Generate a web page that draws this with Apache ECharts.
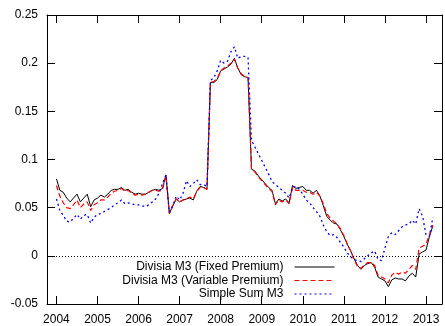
<!DOCTYPE html>
<html>
<head>
<meta charset="utf-8">
<script src="https://cdn.jsdelivr.net/npm/echarts@6/dist/echarts.min.js"></script>
<style>
html,body{margin:0;padding:0;background:#fff;}
#chart{width:445px;height:326px;}
</style>
</head>
<body>
<div id="chart"></div>
<script>
// Monthly observations, Jan 2004 .. Mar 2013
const months = [];
for (let y = 2004; y <= 2013; y++) {
  for (let m = 1; m <= 12; m++) {
    if (y === 2013 && m > 3) break;
    months.push(y + '-' + (m < 10 ? '0' + m : m));
  }
}

const seriesNames = ['Divisia M3 (Fixed Premium)', 'Divisia M3 (Variable Premium)', 'Simple Sum M3'];

const divisiaFixed = [
  0.080, 0.068, 0.066, 0.060, 0.056, 0.060, 0.064, 0.056, 0.060, 0.064, 0.051, 0.058,
  0.060, 0.063, 0.061, 0.064, 0.068, 0.069, 0.069, 0.071, 0.068, 0.069, 0.066, 0.064,
  0.065, 0.064, 0.064, 0.066, 0.068, 0.069, 0.068, 0.070, 0.084, 0.044, 0.052, 0.059,
  0.056, 0.058, 0.059, 0.060, 0.058, 0.067, 0.072, 0.071, 0.069, 0.180, 0.180, 0.183,
  0.192, 0.194, 0.196, 0.199, 0.205, 0.195, 0.188, 0.186, 0.185, 0.090, 0.088, 0.083,
  0.079, 0.075, 0.071, 0.068, 0.054, 0.059, 0.057, 0.059, 0.055, 0.073, 0.070, 0.071,
  0.072, 0.068, 0.068, 0.065, 0.068, 0.062, 0.052, 0.041, 0.037, 0.034, 0.033, 0.027,
  0.020, 0.012, 0.005, -0.003, -0.010, -0.014, -0.010, -0.008, -0.007, -0.012, -0.022, -0.024,
  -0.026, -0.032, -0.025, -0.023, -0.024, -0.024, -0.026, -0.021, -0.018, -0.022, 0.002, 0.004,
  0.006, 0.020, 0.031
];

const divisiaVariable = [
  0.073, 0.062, 0.055, 0.050, 0.049, 0.053, 0.058, 0.050, 0.054, 0.056, 0.047, 0.053,
  0.055, 0.058, 0.058, 0.061, 0.065, 0.067, 0.068, 0.070, 0.067, 0.068, 0.065, 0.063,
  0.064, 0.063, 0.064, 0.066, 0.068, 0.068, 0.067, 0.069, 0.083, 0.044, 0.052, 0.059,
  0.056, 0.058, 0.059, 0.061, 0.059, 0.067, 0.071, 0.071, 0.069, 0.180, 0.181, 0.184,
  0.192, 0.195, 0.197, 0.200, 0.204, 0.195, 0.189, 0.186, 0.185, 0.090, 0.087, 0.082,
  0.078, 0.074, 0.070, 0.067, 0.053, 0.058, 0.056, 0.058, 0.054, 0.071, 0.068, 0.068,
  0.068, 0.066, 0.066, 0.064, 0.066, 0.062, 0.054, 0.044, 0.039, 0.036, 0.033, 0.028,
  0.021, 0.012, 0.005, -0.004, -0.011, -0.013, -0.009, -0.007, -0.007, -0.010, -0.020, -0.022,
  -0.024, -0.028, -0.020, -0.017, -0.019, -0.017, -0.018, -0.014, -0.010, -0.014, 0.008, 0.010,
  0.012, 0.022, 0.032
];

const simpleSum = [
  0.059, 0.047, 0.042, 0.036, 0.035, 0.039, 0.043, 0.038, 0.042, 0.043, 0.034, 0.040,
  0.043, 0.044, 0.046, 0.048, 0.050, 0.053, 0.055, 0.058, 0.054, 0.055, 0.054, 0.053,
  0.053, 0.052, 0.051, 0.053, 0.056, 0.059, 0.065, 0.075, 0.084, 0.045, 0.052, 0.062,
  0.058, 0.065, 0.078, 0.072, 0.075, 0.079, 0.074, 0.074, 0.072, 0.182, 0.185, 0.192,
  0.203, 0.200, 0.202, 0.212, 0.217, 0.205, 0.207, 0.207, 0.206, 0.120, 0.113, 0.106,
  0.099, 0.092, 0.085, 0.077, 0.074, 0.071, 0.068, 0.065, 0.060, 0.071, 0.072, 0.069,
  0.064, 0.058, 0.055, 0.050, 0.046, 0.041, 0.032, 0.025, 0.021, 0.022, 0.019, 0.014,
  0.009, 0.003, -0.001, -0.004, -0.005, -0.006, -0.003, 0.000, 0.003, 0.005, -0.004, -0.005,
  0.008, 0.020, 0.024, 0.022, 0.026, 0.030, 0.032, 0.033, 0.037, 0.033, 0.049, 0.041,
  0.022, 0.020, 0.040
];

const xTickYears = [2004, 2005, 2006, 2007, 2008, 2009, 2010, 2011, 2012, 2013];

function toX(s) {
  const p = s.split('-');
  return +p[0] + (+p[1] - 1) / 12;
}
function pairs(vals) {
  return vals.map((v, i) => [toX(months[i]), v]);
}

const FONT = 'Liberation Sans, Arial, Helvetica, sans-serif';
const X_MIN = 2003.77, X_MAX = 2013.39;

const chart = echarts.init(document.getElementById('chart'), null, {renderer: 'canvas'});

const axisLine = {show: true, onZero: false, lineStyle: {color: '#000', width: 1}};
const tickStyle = {show: true, inside: true, length: 8, lineStyle: {color: '#000', width: 1}};

const legendTops = [260, 273.5, 287];

chart.setOption({
  animation: false,
  backgroundColor: '#fff',
  grid: {left: 47, right: 3, top: 15, bottom: 19, containLabel: false},
  xAxis: [
    {
      type: 'value', min: X_MIN, max: X_MAX, position: 'bottom',
      axisLine: axisLine,
      axisTick: Object.assign({customValues: xTickYears}, tickStyle),
      axisLabel: {customValues: xTickYears, color: '#000', fontSize: 12, fontFamily: FONT, margin: 10,
                  formatter: v => String(Math.round(v))},
      splitLine: {show: false}
    },
    {
      type: 'value', min: X_MIN, max: X_MAX, position: 'top',
      axisLine: axisLine,
      axisTick: Object.assign({customValues: xTickYears}, tickStyle),
      axisLabel: {show: false},
      splitLine: {show: false}
    }
  ],
  yAxis: [
    {
      type: 'value', min: -0.05, max: 0.25, interval: 0.05, position: 'left',
      axisLine: axisLine, axisTick: tickStyle,
      axisLabel: {color: '#000', fontSize: 12, fontFamily: FONT, margin: 9},
      splitLine: {show: false}
    },
    {
      type: 'value', min: -0.05, max: 0.25, interval: 0.05, position: 'right',
      axisLine: axisLine, axisTick: tickStyle,
      axisLabel: {show: false},
      splitLine: {show: false}
    }
  ],
  legend: seriesNames.map((n, i) => ({
    data: [n],
    orient: 'horizontal',
    align: 'right',
    right: 110,
    top: legendTops[i],
    padding: 0,
    itemWidth: 40,
    itemHeight: 14,
    selectedMode: false,
    itemStyle: {opacity: 0},
    lineStyle: {width: 1},
    textStyle: {color: '#000', fontSize: 12, fontFamily: FONT, lineHeight: 14, padding: [0, 6, 0, 0]}
  })),
  series: [
    {
      name: seriesNames[0], type: 'line', data: pairs(divisiaFixed),
      xAxisIndex: 0, yAxisIndex: 0,
      symbol: 'none', showSymbol: false, z: 3,
      lineStyle: {color: '#000', width: 1, type: 'solid'},
      itemStyle: {color: '#000'},
      markLine: {
        silent: true, symbol: ['none', 'none'], label: {show: false},
        lineStyle: {color: '#000', width: 1, type: [1, 2]},
        data: [{yAxis: 0}]
      }
    },
    {
      name: seriesNames[1], type: 'line', data: pairs(divisiaVariable),
      xAxisIndex: 0, yAxisIndex: 0,
      symbol: 'none', showSymbol: false, z: 4,
      lineStyle: {color: '#ff0000', width: 1.2, type: [5, 3]},
      itemStyle: {color: '#ff0000'}
    },
    {
      name: seriesNames[2], type: 'line', data: pairs(simpleSum),
      xAxisIndex: 0, yAxisIndex: 0,
      symbol: 'none', showSymbol: false, z: 5,
      lineStyle: {color: '#0000ff', width: 1.3, type: [2, 3]},
      itemStyle: {color: '#0000ff'}
    }
  ]
});
</script>
</body>
</html>
